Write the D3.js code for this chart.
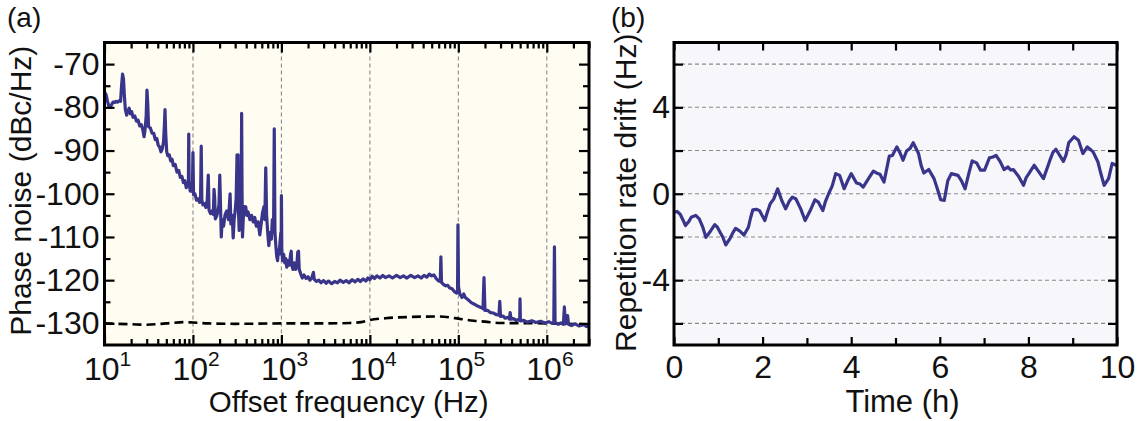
<!DOCTYPE html>
<html>
<head>
<meta charset="utf-8">
<script src="https://cdn.jsdelivr.net/npm/d3@7"></script>
<style>
  html, body { margin: 0; padding: 0; background: #ffffff; }
  svg { display: block; }
  text { font-family: "Liberation Sans", Arial, Helvetica, sans-serif; fill: #111; }
</style>
</head>
<body>
<svg id="chart" width="1145" height="421"></svg>
<script>
// ---------------- DATA ----------------
// Panel (a): phase noise (offset frequency in Hz, dBc/Hz)
const pnFreq = [
  10, 10.4, 10.8, 11.2, 11.6, 12, 12.5, 13, 13.5, 14, 14.6, 15.2, 15.6, 16.0, 16.4, 16.8, 17.2, 17.8, 18.4, 19,
  19.6, 20.3, 21, 22, 23, 24, 25, 26, 27, 28, 28.8, 29.6, 30.2, 30.8, 31.5, 33, 34.5, 36, 37.5, 39,
  40.5, 42, 43.5, 45, 46.5, 47.6, 48.3, 49.2, 50.5, 52, 54, 56, 58, 60, 63, 66, 69, 72, 75, 78,
  81, 84, 87, 88.8, 89.6, 90.5, 93, 96, 98.5, 100, 101.5, 105, 110, 115, 119, 122, 124, 126, 130, 135,
  140, 145, 149, 152, 158, 164, 170, 173, 176, 179, 185, 192, 197, 201, 205, 209, 214, 222, 230, 240,
  252, 263, 268, 278, 285, 292, 300, 308, 315, 320, 324, 327, 333, 340, 346, 351, 355, 359, 363, 370,
  378, 386, 395, 405, 420, 440, 460, 480, 500, 520, 545, 570, 590, 610, 635, 650, 665, 680, 700, 720,
  745, 770, 790, 815, 830, 845, 865, 885, 905, 925, 945, 965, 985, 995, 1000,
  1010, 1030, 1060, 1090, 1120, 1150, 1190, 1230, 1270, 1290, 1310, 1350, 1400, 1450, 1500, 1530, 1560, 1590, 1650, 1720,
  1800, 1900, 2000, 2100, 2200, 2300, 2350, 2500, 2650, 2800, 3000, 3200, 3400, 3700, 4000, 4300, 4600, 5000, 5400, 5800,
  6300, 6800, 7300, 7800, 8400, 9000, 9500, 10000, 10600, 11300, 12000, 13000, 14000, 15000, 16500, 18000, 20000, 22000, 24000, 26000,
  29000, 32000, 35000, 38000, 41000, 44000, 47000, 50000, 53000, 56000, 60000, 62500, 63500, 64500, 68000, 72000, 76000, 80000, 85000, 90000,
  95000, 98000, 99000, 100500, 104000, 110000, 115000, 120000, 130000, 140000, 150000, 165000, 180000, 190000, 195000, 200000, 215000, 230000, 250000, 270000,
  288000, 294000, 300000, 320000, 340000, 365000, 380000, 385000, 395000, 420000, 450000, 480000, 494000, 498000, 503000, 550000, 600000, 680000, 750000, 850000,
  950000, 1050000, 1150000, 1200000, 1220000, 1240000, 1350000, 1450000, 1540000, 1580000, 1620000, 1680000, 1720000, 1760000, 1900000, 2100000, 2300000, 2600000, 2800000, 3000000];
const pnLevel = [
  -76.5, -77, -78.5, -79.8, -80, -79.4, -78.8, -78.9, -78.6, -78.8, -78.5, -78.6, -75, -72.3, -73.5, -77.5, -80.5, -81.8, -80.8, -80.2,
  -81.5, -81, -82.3, -82, -83.2, -83, -84.3, -84, -85, -86.8, -85, -82, -76, -79, -84.5, -84.8, -86, -86, -87.5, -87.2,
  -88.8, -89.2, -90.3, -89.6, -88, -84, -80.5, -86, -90.3, -91.2, -91, -92.4, -92, -93.5, -93.2, -95, -94.6, -96.2, -96, -97.4,
  -97, -98.6, -98, -97.5, -86.2, -97, -99.4, -99, -99.5, -90.5, -100.2, -100, -101.5, -101.2, -102, -100.5, -89, -101.5, -102.6, -102.3,
  -103.2, -101.5, -95.7, -103.8, -104.6, -104, -104.8, -99, -101, -105.8, -105.2, -104, -102.5, -95.7, -103, -110, -106, -107.5, -105, -104,
  -106, -100, -107, -105, -110.2, -106, -104, -101, -91, -97, -91, -104, -108.5, -103, -95, -106, -81.4, -100, -110, -106,
  -103, -104.5, -103, -105, -104.2, -106, -105, -106.5, -105.5, -107.5, -106.5, -109.5, -107, -104.5, -103, -106, -94, -105, -109, -112,
  -109, -110.5, -106, -109, -85, -109, -112, -114.5, -115.5, -113, -114, -111, -109, -112, -100.4,
  -113, -115.5, -114, -116, -115, -117, -115.5, -116.5, -114, -113.3, -116.5, -117.5, -116, -117.5, -116, -113.5, -113.3, -117.5, -118.5, -119.5,
  -118.8, -119.6, -119.2, -120, -119.5, -118.2, -119.8, -120.3, -120, -120.6, -120.1, -120.7, -120.2, -120.8, -120.3, -120.6, -120, -120.5, -120.1, -120.6,
  -119.9, -120.4, -119.8, -120.3, -119.7, -120.2, -119.5, -119.9, -119.1, -119.6, -119, -119.5, -118.9, -119.4, -119, -119.5, -118.9, -119.4, -119, -119.5,
  -118.9, -119.4, -119, -119.5, -118.9, -119.3, -118.6, -119, -118.8, -119.6, -120.2, -120.3, -114.6, -120.5, -121, -121.3, -121.2, -121.8, -122, -122.6,
  -123, -122.8, -107.2, -121.5, -123.2, -124, -123.2, -124, -124.6, -125.2, -125.5, -126, -126.3, -126.6, -119.4, -127, -127, -127.5, -127.6, -128,
  -128.1, -124.9, -128.4, -128.3, -128.8, -128.6, -129, -127.5, -129, -128.9, -129.3, -129.1, -129.3, -124.3, -129.4, -129.3, -129.7, -129.4, -129.8, -129.5,
  -129.9, -129.6, -130, -129.8, -112.3, -129.8, -130.2, -129.9, -130.2, -126.2, -130.1, -129.8, -128.2, -130.2, -130.5, -130.1, -130.6, -130.3, -130.7, -130.8];
// Panel (a): reference (measurement floor), dashed
const refFreq = [10, 20, 30, 50, 80, 100, 150, 300, 1000, 3000, 6000, 8000, 10000, 15000, 30000, 60000, 80000, 100000, 150000, 200000, 300000, 1000000, 3000000];
const refLevel = [-130, -130.2, -130.3, -130, -129.7, -129.8, -130, -130.1, -130, -130, -129.9, -129.7, -129.2, -128.8, -128.5, -128.4, -128.6, -128.9, -129.4, -129.6, -129.9, -130, -130.2];
const pnYTicks = [-130, -120, -110, -100, -90, -80, -70];
const pnXDecades = [1, 2, 3, 4, 5, 6];

// Panel (b): repetition rate drift (time in h, drift in Hz)
const driftTime = [0, 0.07, 0.14, 0.2, 0.26, 0.33, 0.39, 0.49, 0.57, 0.65, 0.72, 0.78, 0.83, 0.92, 0.98, 1.04, 1.1, 1.17, 1.27, 1.33,
  1.39, 1.48, 1.58, 1.68, 1.73, 1.78, 1.86, 1.93, 2.05, 2.1, 2.17, 2.25, 2.34, 2.43, 2.52, 2.6, 2.67, 2.75, 2.86, 2.96,
  3.07, 3.18, 3.26, 3.36, 3.42, 3.49, 3.57, 3.65, 3.74, 3.84, 3.92, 4.0, 4.12, 4.2, 4.27, 4.39, 4.5, 4.58, 4.65, 4.74,
  4.86, 4.93, 5.03, 5.1, 5.17, 5.25, 5.33, 5.4, 5.52, 5.58, 5.64, 5.75, 5.87, 5.95, 6.02, 6.1, 6.18, 6.26, 6.41, 6.49,
  6.57, 6.65, 6.73, 6.83, 6.92, 7.01, 7.12, 7.2, 7.27, 7.36, 7.45, 7.54, 7.6, 7.66, 7.78, 7.89, 7.95, 8.01, 8.13, 8.24,
  8.34, 8.48, 8.55, 8.62, 8.7, 8.79, 8.85, 8.91, 9.03, 9.13, 9.23, 9.33, 9.4, 9.46, 9.57, 9.64, 9.71, 9.81, 9.89, 9.95, 10.0];
const driftHz = [-0.85, -0.82, -0.95, -1.2, -1.47, -1.3, -1.09, -1.0, -1.16, -1.55, -2.02, -1.85, -1.71, -1.43, -1.55, -1.78, -2.0, -2.37, -2.05, -1.8,
  -1.6, -1.72, -1.91, -1.55, -1.1, -0.74, -0.72, -0.78, -1.24, -0.9, -0.47, -0.25, 0.23, -0.3, -0.7, -0.35, -0.16, -0.23, -0.7, -1.24,
  -0.8, -0.28, -0.39, -0.78, -0.35, 0.0, 0.35, 0.93, 0.85, 0.23, 0.6, 0.93, 0.5, 0.45, 0.31, 0.7, 1.05, 0.95, 0.9, 0.54,
  1.74, 1.77, 2.17, 1.9, 1.55, 1.98, 2.1, 2.36, 1.86, 1.3, 0.96, 1.12, 0.7, 0.2, -0.28, -0.31, 0.6, 0.93, 0.85, 0.6,
  0.23, 0.9, 1.52, 1.43, 1.09, 1.09, 1.66, 1.7, 1.78, 1.5, 1.12, 1.24, 1.1, 1.12, 0.8, 0.39, 0.75, 0.93, 1.32, 1.0,
  0.7, 1.52, 1.9, 2.06, 1.8, 1.5, 1.8, 2.36, 2.64, 2.48, 1.86, 2.17, 2.05, 1.94, 1.47, 0.9, 0.39, 0.7, 1.4, 1.35, 1.29];
const driftYTicks = [-6, -4, -2, 0, 2, 4, 6];
const driftYLabels = [-4, 0, 4];
const driftXTicks = [0, 2, 4, 6, 8, 10];
const driftXMinor = [1, 3, 5, 7, 9];

// ---------------- DRAW ----------------
const svg = d3.select("#chart");
const lineColor = "#38358a";
const tickFont = 32;
const titleFont = 29.5;

function frameAndClip(id, x0, x1, y0, y1, fill) {
  svg.append("rect").attr("x", x0).attr("y", y0).attr("width", x1 - x0).attr("height", y1 - y0).attr("fill", fill);
  svg.append("clipPath").attr("id", id).append("rect")
    .attr("x", x0).attr("y", y0).attr("width", x1 - x0).attr("height", y1 - y0);
}
function styleAxis(g) {
  g.select(".domain").remove();
  g.selectAll(".tick line").attr("stroke", "#000").attr("stroke-width", 2.2);
  g.selectAll(".tick text").attr("font-size", tickFont).attr("fill", "#111")
    .style("font-family", "'Liberation Sans', Arial, Helvetica, sans-serif");
}

// ===== Panel (a) =====
const A = { x0: 104.5, x1: 589, y0: 42.5, y1: 345 };
const xA = d3.scaleLog().domain([10, 3e6]).range([A.x0, A.x1]);
const yA = d3.scaleLinear().domain([-135, -65]).range([A.y1, A.y0]);
frameAndClip("clipA", A.x0, A.x1, A.y0, A.y1, "#fffcf1");

const gridDecA = pnXDecades.slice(1).map(e => Math.pow(10, e));
svg.append("g").selectAll("line").data(gridDecA).join("line")
  .attr("x1", d => xA(d)).attr("x2", d => xA(d)).attr("y1", A.y0).attr("y2", A.y1)
  .attr("stroke", "#8a8a8a").attr("stroke-width", 1.1).attr("stroke-dasharray", "4,3");

const minorA = [];
for (let e = 1; e <= 6; e++) for (let m = 2; m <= 9; m++) { const v = m * Math.pow(10, e); if (v <= 3e6) minorA.push(v); }
const majorA = pnXDecades.map(e => Math.pow(10, e));
const yMinorA = d3.range(-130, -65, 5).filter(v => v % 10 !== 0);

const gA = svg.append("g").attr("clip-path", "url(#clipA)");
const pnData = pnFreq.map((f, i) => [f, pnLevel[i]]);
const refData = refFreq.map((f, i) => [f, refLevel[i]]);
gA.append("path").datum(refData)
  .attr("d", d3.line().x(d => xA(d[0])).y(d => yA(d[1])).curve(d3.curveMonotoneX))
  .attr("fill", "none").attr("stroke", "#000").attr("stroke-width", 2.6).attr("stroke-dasharray", "9,5");
gA.append("path").datum(pnData).attr("d", d3.line().x(d => xA(d[0])).y(d => yA(d[1])))
  .attr("fill", "none").attr("stroke", lineColor).attr("stroke-width", 3.2).attr("stroke-linejoin", "round");

svg.append("g").attr("transform", `translate(0,${A.y1})`)
  .call(d3.axisBottom(xA).tickValues(minorA).tickSize(-6).tickFormat(() => "")).call(styleAxis);
svg.append("g").attr("transform", `translate(0,${A.y0})`)
  .call(d3.axisTop(xA).tickValues(minorA).tickSize(-6).tickFormat(() => "")).call(styleAxis);
svg.append("g").attr("transform", `translate(0,${A.y0})`)
  .call(d3.axisTop(xA).tickValues(majorA).tickSize(-10).tickFormat(() => "")).call(styleAxis);
const xAxisA = svg.append("g").attr("transform", `translate(0,${A.y1})`)
  .call(d3.axisBottom(xA).tickValues(majorA).tickSize(-10).tickFormat(() => "")).call(styleAxis);
xAxisA.selectAll(".tick text").each(function (d) {
  const t = d3.select(this);
  t.text(null).attr("dy", null).attr("y", 35).attr("text-anchor", "start").attr("x", -21);
  t.append("tspan").text("10");
  t.append("tspan").attr("font-size", 21).attr("dy", -14).text(String(Math.round(Math.log10(d))));
});
svg.append("g").attr("transform", `translate(${A.x0},0)`)
  .call(d3.axisLeft(yA).tickValues(pnYTicks).tickSize(-10).tickPadding(5).tickFormat(d => String(d))).call(styleAxis);
svg.append("g").attr("transform", `translate(${A.x0},0)`)
  .call(d3.axisLeft(yA).tickValues(yMinorA).tickSize(-6).tickFormat(() => "")).call(styleAxis);
svg.append("g").attr("transform", `translate(${A.x1},0)`)
  .call(d3.axisRight(yA).tickValues(pnYTicks).tickSize(-10).tickFormat(() => "")).call(styleAxis);
svg.append("g").attr("transform", `translate(${A.x1},0)`)
  .call(d3.axisRight(yA).tickValues(yMinorA).tickSize(-6).tickFormat(() => "")).call(styleAxis);

svg.append("rect").attr("x", A.x0).attr("y", A.y0).attr("width", A.x1 - A.x0).attr("height", A.y1 - A.y0)
  .attr("fill", "none").attr("stroke", "#000").attr("stroke-width", 3);

svg.append("text").attr("x", (A.x0 + A.x1) / 2 + 2).attr("y", 412).attr("text-anchor", "middle")
  .attr("font-size", titleFont).text("Offset frequency (Hz)");
svg.append("text").attr("transform", `translate(31,${(A.y0 + A.y1) / 2 - 3}) rotate(-90)`).attr("text-anchor", "middle")
  .attr("font-size", 30).text("Phase noise (dBc/Hz)");
svg.append("text").attr("x", 7).attr("y", 27).attr("font-size", 28).text("(a)");

// ===== Panel (b) =====
const B = { x0: 674, x1: 1117, y0: 42.5, y1: 345 };
const xB = d3.scaleLinear().domain([0, 10]).range([B.x0, B.x1]);
const yB = d3.scaleLinear().domain([-7, 7]).range([B.y1, B.y0]);
frameAndClip("clipB", B.x0, B.x1, B.y0, B.y1, "#f6f6fb");

svg.append("g").selectAll("line").data(driftYTicks).join("line")
  .attr("x1", B.x0).attr("x2", B.x1).attr("y1", d => yB(d)).attr("y2", d => yB(d))
  .attr("stroke", "#8a8a8a").attr("stroke-width", 1.1).attr("stroke-dasharray", "4,3");

const driftData = driftTime.map((t, i) => [t, driftHz[i]]);
svg.append("g").attr("clip-path", "url(#clipB)").append("path").datum(driftData)
  .attr("d", d3.line().x(d => xB(d[0])).y(d => yB(d[1])))
  .attr("fill", "none").attr("stroke", lineColor).attr("stroke-width", 3.2).attr("stroke-linejoin", "round");

svg.append("g").attr("transform", `translate(0,${B.y1})`)
  .call(d3.axisBottom(xB).tickValues(driftXTicks).tickSize(-8).tickPadding(10).tickFormat(d => String(d))).call(styleAxis);
svg.append("g").attr("transform", `translate(0,${B.y1})`)
  .call(d3.axisBottom(xB).tickValues(driftXMinor).tickSize(-7).tickFormat(() => "")).call(styleAxis);
svg.append("g").attr("transform", `translate(0,${B.y0})`)
  .call(d3.axisTop(xB).tickValues(driftXTicks.concat(driftXMinor)).tickSize(-8).tickFormat(() => "")).call(styleAxis);
svg.append("g").attr("transform", `translate(${B.x0},0)`)
  .call(d3.axisLeft(yB).tickValues(driftYTicks).tickSize(-9).tickPadding(4)
    .tickFormat(d => driftYLabels.includes(d) ? String(d) : "")).call(styleAxis);
svg.append("g").attr("transform", `translate(${B.x1},0)`)
  .call(d3.axisRight(yB).tickValues(driftYTicks).tickSize(-9).tickFormat(() => "")).call(styleAxis);

svg.append("rect").attr("x", B.x0).attr("y", B.y0).attr("width", B.x1 - B.x0).attr("height", B.y1 - B.y0)
  .attr("fill", "none").attr("stroke", "#000").attr("stroke-width", 3);

svg.append("text").attr("x", (B.x0 + B.x1) / 2 + 7).attr("y", 412).attr("text-anchor", "middle")
  .attr("font-size", 31).text("Time (h)");
svg.append("text").attr("transform", `translate(636,${(B.y0 + B.y1) / 2 - 1}) rotate(-90)`).attr("text-anchor", "middle")
  .attr("font-size", 30).text("Repetition rate drift (Hz)");
svg.append("text").attr("x", 611).attr("y", 27).attr("font-size", 28).text("(b)");
</script>
</body>
</html>
